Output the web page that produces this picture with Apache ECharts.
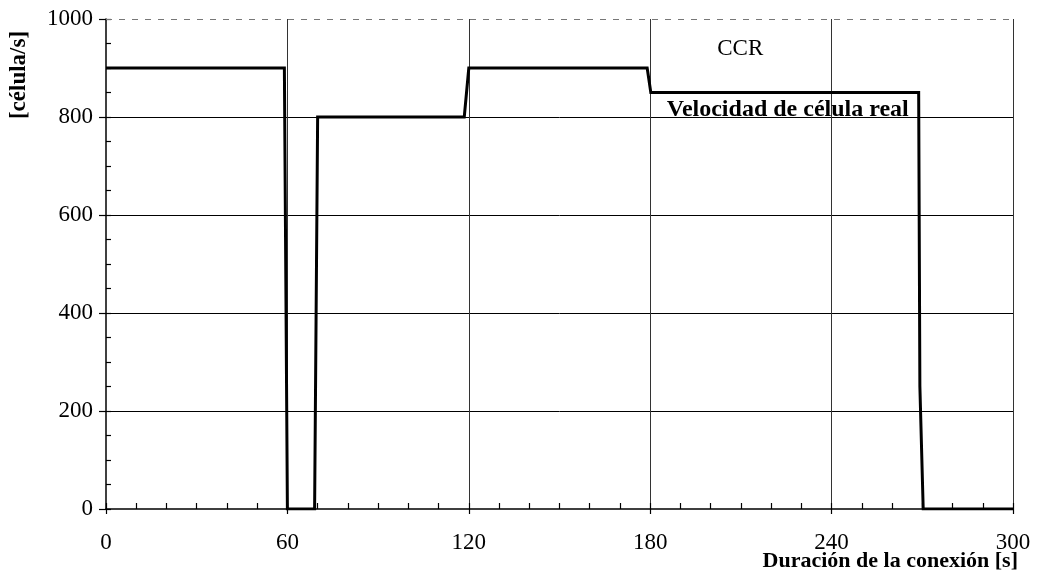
<!DOCTYPE html>
<html>
<head>
<meta charset="utf-8">
<script src="https://cdn.jsdelivr.net/npm/echarts@6/dist/echarts.min.js"></script>
<style>html,body{margin:0;padding:0;background:#fff}#c{width:1042px;height:580px}</style>
</head>
<body>
<div id="c"></div>
<script>
// Step profile of the real cell rate: time [s] and rate [cell/s]
var timeS = [0, 59, 60, 69, 70, 118.5, 120, 179, 180.2, 268.8, 269.2, 270.3, 300];
var rateCells = [900, 900, 0, 0, 800, 800, 900, 900, 850, 850, 250, 0, 0];
var xTicks = [0, 60, 120, 180, 240, 300];
var yTicks = [0, 200, 400, 600, 800, 1000];
var labelCCR = {text: 'CCR', x: 209.8, y: 938};
var labelReal = {text: 'Velocidad de célula real', x: 225.5, y: 815};
var xTitle = 'Duración de la conexión [s]';
var yTitle = '[célula/s]';

var serif = '"Liberation Serif", "Times New Roman", serif';
var chart = echarts.init(document.getElementById('c'), null, {renderer: 'canvas'});
var pts = timeS.map(function (t, i) { return [t, rateCells[i]]; });
var plain = function (v) { return String(v); };

var option = {
  animation: false,
  backgroundColor: '#fff',
  grid: {left: 106, right: 29, top: 19, bottom: 71, containLabel: false, outerBoundsMode: 'none'},
  xAxis: [{
    type: 'value', min: xTicks[0], max: xTicks[xTicks.length - 1], interval: 60,
    axisLine: {show: true, lineStyle: {color: '#000', width: 1.5}},
    axisTick: {show: true, inside: false, length: 5, lineStyle: {color: '#000', width: 1.2}},
    axisLabel: {margin: 22, color: '#000', fontFamily: serif, fontSize: 23, formatter: plain},
    splitLine: {show: true, showMinLine: false, lineStyle: {color: '#333', width: 1}}
  }, {
    type: 'value', min: xTicks[0], max: xTicks[xTicks.length - 1], interval: 60,
    position: 'bottom',
    axisLine: {show: false}, axisLabel: {show: false}, splitLine: {show: false},
    axisTick: {show: true, inside: true, length: 6, lineStyle: {color: '#000', width: 1.2}},
    minorTick: {show: true, splitNumber: 6, length: 6, lineStyle: {color: '#000', width: 1.2}}
  }],
  yAxis: [{
    type: 'value', min: yTicks[0], max: yTicks[yTicks.length - 1], interval: 200,
    axisLine: {show: true, lineStyle: {color: '#000', width: 1.5}},
    axisTick: {show: true, inside: false, length: 7, lineStyle: {color: '#000', width: 1.2}},
    axisLabel: {margin: 13, color: '#000', fontFamily: serif, fontSize: 23, formatter: plain},
    splitLine: {show: true, showMinLine: false, showMaxLine: false, lineStyle: {color: '#000', width: 1}}
  }, {
    type: 'value', min: yTicks[0], max: yTicks[yTicks.length - 1], interval: 200,
    position: 'left',
    axisLine: {show: false}, axisLabel: {show: false}, splitLine: {show: false},
    axisTick: {show: true, inside: true, length: 5, lineStyle: {color: '#000', width: 1.2}},
    minorTick: {show: true, splitNumber: 4, length: 5, lineStyle: {color: '#000', width: 1.2}}
  }],
  graphic: [{
    type: 'text', x: 19, y: 75, rotation: Math.PI / 2,
    style: {text: yTitle, fill: '#000', font: 'bold 23px ' + serif,
      textAlign: 'center', textVerticalAlign: 'middle'}
  }, {
    type: 'text', x: 1018, y: 561,
    style: {text: xTitle, fill: '#000', font: 'bold 22px ' + serif,
      textAlign: 'right', textVerticalAlign: 'middle'}
  }],
  series: [{
    type: 'line', data: pts, symbol: 'none', silent: true,
    lineStyle: {color: '#000', width: 3, join: 'miter'},
    markLine: {
      silent: true, symbol: 'none', label: {show: false},
      lineStyle: {color: '#777', type: [6, 7], width: 1},
      data: [{yAxis: yTicks[yTicks.length - 1]}]
    },
    markPoint: {
      silent: true, symbol: 'circle', symbolSize: 0,
      data: [
        {coord: [labelCCR.x, labelCCR.y], label: {show: true, formatter: labelCCR.text,
          color: '#000', fontFamily: serif, fontSize: 23, position: 'inside'}},
        {coord: [labelReal.x, labelReal.y], label: {show: true, formatter: labelReal.text,
          color: '#000', fontFamily: serif, fontSize: 24, fontWeight: 'bold', position: 'inside'}}
      ]
    }
  }]
};
chart.setOption(option);
</script>
</body>
</html>
